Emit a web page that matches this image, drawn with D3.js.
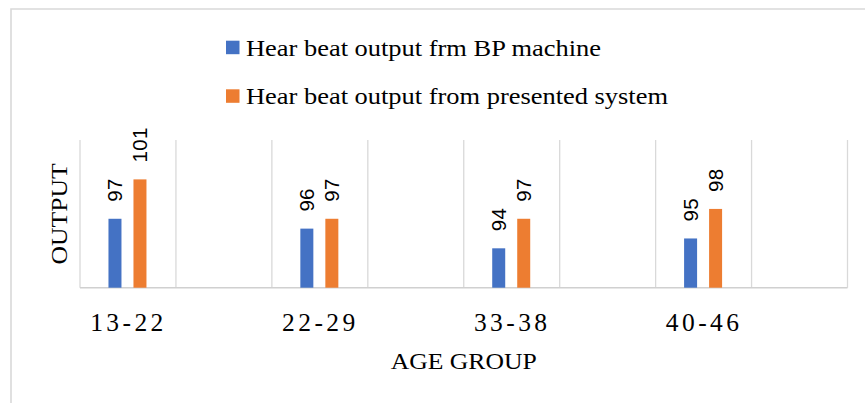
<!DOCTYPE html>
<html lang="en">
<head>
  <meta charset="utf-8">
  <title>heart beat output</title>
  <style>
  * { margin:0; padding:0; }
  body { background: #fff; }
  .serif { font-family: "Liberation Serif", "Times New Roman", serif; fill: #000; }
  .lbl { font-family: "Liberation Sans", Arial, sans-serif; fill: #000; }
  </style>
  <script src="https://d3js.org/d3.v7.min.js"></script>
</head>
<body>
  <div id="chart"></div>
  <script type="text/javascript">
    // data
    var ageGroups = ["13-22", "22-29", "33-38", "40-46"];
    var bpMachine = [97, 96, 94, 95];
    var presentedSystem = [101, 97, 97, 98];
    var seriesNames = ["Hear beat output frm BP machine", "Hear beat output from presented system"];
    var seriesColours = ["#4472C4", "#ED7D31"];
    var yRange = [90, 105];

    var width = 865, height = 403;
    var svg = d3.select("#chart").append("svg")
      .attr("width", width)
      .attr("height", height);

    var stretch = 1.14; // text in the original is drawn a bit wide

    // outer frame
    svg.append("path")
      .attr("d", "M11," + (height+2) + "V9H" + (width+2))
      .attr("fill", "none")
      .attr("stroke", "#d9d9d9")
      .attr("stroke-width", 1.6);

    var plotLeft = 80, plotRight = 847.5, plotTop = 140, plotBottom = 287.7;

    // every group is followed by an empty slot, like the original
    var slots = [];
    ageGroups.forEach(function(g) { slots.push(g); slots.push(g + "_gap"); });

    var x = d3.scaleBand().domain(slots).range([plotLeft, plotRight]).padding(0);
    var xs = d3.scaleBand().domain([0, 1]).range([-19.5, 18.5]).paddingInner(0.48);
    var y = d3.scaleLinear().domain(yRange).range([plotBottom, plotTop]);

    // vertical gridlines on slot borders
    var borders = slots.map(function(s) { return x(s); }).concat([plotRight]);
    svg.append("g").selectAll("line").data(borders).join("line")
      .attr("x1", function(d) { return d; })
      .attr("x2", function(d) { return d; })
      .attr("y1", plotTop)
      .attr("y2", plotBottom)
      .attr("stroke", "#d9d9d9")
      .attr("stroke-width", 1.3);

    // baseline
    svg.append("line")
      .attr("x1", plotLeft).attr("x2", plotRight)
      .attr("y1", plotBottom).attr("y2", plotBottom)
      .attr("stroke", "#d0d0d0")
      .attr("stroke-width", 1.6);

    var rows = [];
    ageGroups.forEach(function(g, i) {
      rows.push({g: g, s: 0, v: bpMachine[i]});
      rows.push({g: g, s: 1, v: presentedSystem[i]});
    });

    var cx = function(d) { return x(d.g) + x.bandwidth() / 2 + xs(d.s); };

    svg.append("g").selectAll("rect").data(rows).join("rect")
      .attr("x", cx)
      .attr("y", function(d) { return y(d.v); })
      .attr("width", xs.bandwidth())
      .attr("height", function(d) { return plotBottom - y(d.v); })
      .attr("fill", function(d) { return seriesColours[d.s]; });

    // rotated value labels
    svg.append("g").selectAll("text").data(rows).join("text")
      .attr("class", "lbl")
      .attr("font-size", 20.5)
      .attr("letter-spacing", 0.3)
      .attr("transform", function(d) {
        return "translate(" + (cx(d) + xs.bandwidth() / 2 + 7.2) + "," + (y(d.v) - 17) + ") rotate(-90)";
      })
      .text(function(d) { return d.v; });

    // category labels
    svg.append("g").selectAll("text").data(ageGroups).join("text")
      .attr("class", "serif")
      .attr("font-size", 25.5)
      .attr("letter-spacing", 3.4)
      .attr("text-anchor", "middle")
      .attr("x", function(d) { return x(d) + x.bandwidth() / 2 + 0.5; })
      .attr("y", 330.5)
      .text(function(d) { return d; });

    // axis titles
    svg.append("text")
      .attr("class", "serif")
      .attr("font-size", 22.5)
      .attr("text-anchor", "middle")
      .attr("transform", "translate(" + ((plotLeft + plotRight) / 2) + ",368.5) scale(" + stretch + ",1)")
      .text("AGE GROUP");

    svg.append("text")
      .attr("class", "serif")
      .attr("font-size", 22.5)
      .attr("text-anchor", "middle")
      .attr("transform", "translate(66.8,214) rotate(-90) scale(" + stretch + ",1)")
      .text("OUTPUT");

    // legend
    var legend = svg.append("g").selectAll("g").data(seriesNames).join("g")
      .attr("transform", function(d, i) { return "translate(226," + (40.7 + i * 48.6) + ")"; });
    legend.append("rect")
      .attr("width", 13.5).attr("height", 13.5)
      .attr("fill", function(d, i) { return seriesColours[i]; });
    legend.append("text")
      .attr("class", "serif")
      .attr("font-size", 23.2)
      .attr("transform", "translate(20,14.9) scale(" + stretch + ",1)")
      .text(function(d) { return d; });
  </script>
</body>
</html>
